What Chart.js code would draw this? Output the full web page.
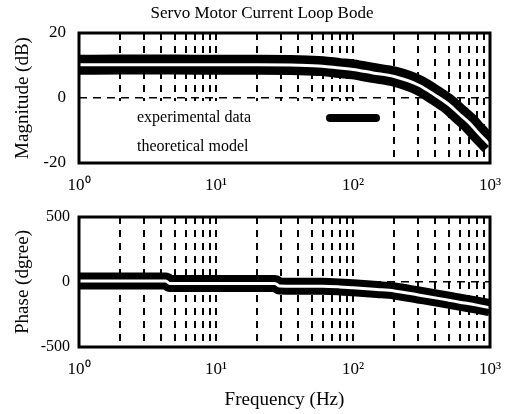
<!DOCTYPE html>
<html>
<head>
<meta charset="utf-8">
<script src="https://cdn.jsdelivr.net/npm/chart.js@4"></script>
<style>
body { margin: 0; background: #fff; }
canvas { position: absolute; left: 0; }
#mag { top: 0; }
#phase { top: 200px; }
</style>
</head>
<body>
<canvas id="mag" width="505" height="200"></canvas>
<canvas id="phase" width="505" height="214"></canvas>
<script>
// magnitude (dB)
const magFreq = [1, 2, 5, 10, 20, 40, 60, 80, 100, 140, 200, 300, 400, 500, 600, 700, 800, 900, 1000];
const magExperimental = [10.2, 10.3, 10.3, 10.2, 10.2, 10.1, 9.8, 9.2, 8.8, 7.7, 6.6, 4.0, 0.8, -2.0, -5.0, -7.5, -10.2, -12.5, -14.5];
const magTheoretical = [10.2, 10.2, 10.2, 10.2, 10.2, 10.1, 9.8, 9.2, 8.8, 7.7, 6.6, 4.0, 0.8, -2.0, -5.0, -7.5, -10.2, -12.5, -14.5];

// phase (degree)
const phaseFreq = [1, 4.3, 4.6, 27, 29, 60, 80, 100, 150, 200, 300, 400, 500, 600, 800, 1000];
const phaseExperimental = [8, 8, -12, -12, -30, -33, -38, -45, -58, -69, -100, -122, -140, -155, -178, -198];
const phaseTheoretical = [8, 8, -12, -12, -30, -33, -38, -45, -58, -69, -100, -122, -140, -155, -178, -198];

const gridFreq = [1, 2, 3, 4, 5, 6, 7, 8, 9, 10, 20, 30, 40, 50, 60, 70, 80, 90, 100, 200, 300, 400, 500, 600, 700, 800, 900, 1000];
const decadeTicks = [1, 10, 100, 1000];
const decadeLabels = ['10\u2070', '10\u00b9', '10\u00b2', '10\u00b3'];
const magTicks = [-20, 0, 20];
const phaseTicks = [-500, 0, 500];

Chart.defaults.font.family = "'Liberation Serif', 'Times New Roman', serif";
Chart.defaults.color = '#000';

const framePlugin = {
    id: 'frame',
    afterDatasetsDraw(chart) {
        const { ctx, chartArea: a } = chart;
        ctx.save();
        ctx.strokeStyle = '#000';
        ctx.lineWidth = 3;
        ctx.strokeRect(a.left, a.top, a.right - a.left, a.bottom - a.top);
        ctx.restore();
    }
};

// title sits a bit right of the canvas centre in the original
const titlePlugin = {
    id: 'offsetTitle',
    afterDraw(chart, args, opts) {
        const ctx = chart.ctx;
        ctx.save();
        ctx.font = "17px 'Liberation Serif'";
        ctx.textAlign = 'center';
        ctx.textBaseline = 'middle';
        ctx.fillStyle = '#000';
        ctx.fillText(opts.text, 262, 14);
        ctx.restore();
    }
};

// legend box inside the plot, white background hides the grid like the original
const inlineLegend = {
    id: 'inlineLegend',
    afterDatasetsDraw(chart) {
        const ctx = chart.ctx;
        const a = chart.chartArea;
        ctx.save();
        ctx.fillStyle = '#fff';
        ctx.fillRect(a.left, 101, 391 - a.left, a.bottom - 102);
        ctx.font = "16px 'Liberation Serif'";
        ctx.textBaseline = 'middle';
        ctx.fillStyle = '#000';
        chart.data.datasets.forEach((ds, i) => {
            const y = 118 + i * 29;
            ctx.fillText(ds.label, 137, y);
            ctx.strokeStyle = ds.borderColor;
            ctx.lineWidth = 8;
            ctx.lineCap = 'round';
            ctx.beginPath();
            ctx.moveTo(330, y);
            ctx.lineTo(376, y);
            ctx.stroke();
        });
        ctx.restore();
    }
};

function freqAxis(showTitle) {
    return {
        type: 'logarithmic',
        min: 1,
        max: 1000,
        afterBuildTicks: s => { s.ticks = gridFreq.map(v => ({ value: v })); },
        afterFit: s => {
            s.height = showTitle ? 67 : 37;
            s.paddingLeft = 0;
            s.paddingRight = 0;
        },
        ticks: {
            autoSkip: false,
            maxRotation: 0,
            padding: 12,
            font: { size: 17 },
            callback: v => {
                const i = decadeTicks.indexOf(v);
                return i < 0 ? '' : decadeLabels[i];
            }
        },
        grid: {
            drawTicks: false,
            lineWidth: 2,
            color: c => (c.tick && (c.tick.value === 1 || c.tick.value === 1000)) ? 'transparent' : '#000'
        },
        border: { display: false, dash: [7, 6] },
        title: { display: showTitle, text: 'Frequency (Hz)', font: { size: 19 }, padding: { top: 0, bottom: 3 } }
    };
}

function valueAxis(min, max, tickList, label, pad, size) {
    return {
        min: min,
        max: max,
        afterBuildTicks: s => { s.ticks = tickList.map(v => ({ value: v })); },
        afterFit: s => {
            s.width = 79;
            s.paddingTop = 0;
            s.paddingBottom = 0;
        },
        ticks: { padding: pad, font: { size: size } },
        grid: {
            drawTicks: false,
            lineWidth: 1.5,
            color: c => (c.tick && c.tick.value === 0) ? '#000' : 'transparent'
        },
        border: { display: false, dash: [8, 6] },
        title: { display: true, text: label, font: { size: 19 }, padding: { top: 12 } }
    };
}

function pts(xs, ys) {
    return xs.map((x, i) => ({ x: x, y: ys[i] }));
}

function bands(expData, theoData, width) {
    return [{
        label: 'experimental data',
        data: expData,
        borderColor: '#000',
        borderWidth: width,
        pointRadius: 0,
        cubicInterpolationMode: 'monotone',
        clip: 0,
        order: 2
    }, {
        label: 'theoretical model',
        data: theoData,
        borderColor: '#fff',
        borderWidth: 3,
        pointRadius: 0,
        cubicInterpolationMode: 'monotone',
        clip: 0,
        order: 1
    }];
}

new Chart(document.getElementById('mag'), {
    type: 'line',
    data: { datasets: bands(pts(magFreq, magExperimental), pts(magFreq, magTheoretical), 20) },
    options: {
        responsive: false,
        animation: false,
        layout: { padding: { top: 33, right: 15, bottom: 0, left: 0 } },
        plugins: {
            legend: { display: false },
            tooltip: { enabled: false },
            offsetTitle: { text: 'Servo Motor Current Loop Bode' }
        },
        scales: {
            x: freqAxis(false),
            y: valueAxis(-20, 20, magTicks, 'Magnitude (dB)', 13, 17)
        }
    },
    plugins: [inlineLegend, framePlugin, titlePlugin]
});

new Chart(document.getElementById('phase'), {
    type: 'line',
    data: { datasets: bands(pts(phaseFreq, phaseExperimental), pts(phaseFreq, phaseTheoretical), 17) },
    options: {
        responsive: false,
        animation: false,
        layout: { padding: { top: 17, right: 15, bottom: 0, left: 0 } },
        plugins: {
            legend: { display: false },
            tooltip: { enabled: false }
        },
        scales: {
            x: freqAxis(true),
            y: valueAxis(-500, 500, phaseTicks, 'Phase (dgree)', 9, 16)
        }
    },
    plugins: [framePlugin]
});
</script>
</body>
</html>
